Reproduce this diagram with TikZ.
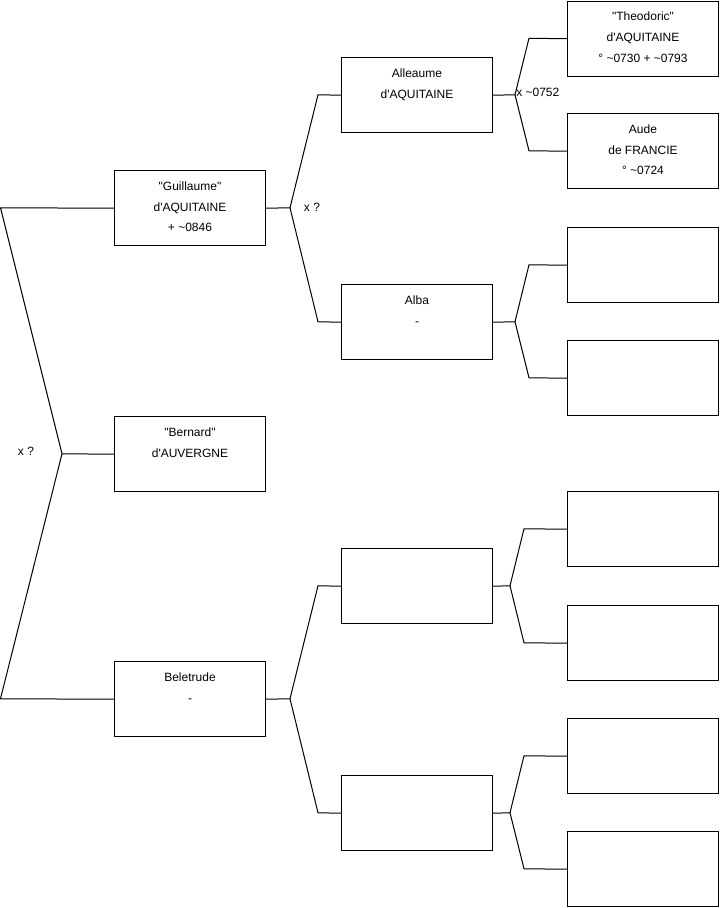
\documentclass[tikz,border=0pt]{standalone}
\usepackage{fontspec}
\newfontfamily\af{Liberation Sans}
\begin{document}
\begin{tikzpicture}[x=0.75pt,y=-0.75pt,
  every node/.style={font=\af\fontsize{9}{15.5}\selectfont},
  fbox/.style={draw, line width=0.75pt, minimum width=113.25pt, minimum height=56.6pt, inner sep=0pt, anchor=north west},
  ftext/.style={align=center, inner sep=0pt, anchor=north},
  lbl/.style={inner sep=0pt},
  link/.style={line width=0.75pt}]
\useasboundingbox (0,0) rectangle (719,908);
\newcommand\fambox[4]{%
  \node[fbox] (#1) at (#2,#3) {};
  \node[ftext] (#1t) at ([yshift=-8.6pt]#1.north) {#4};}
% generation 1
\fambox{G}{114}{170}{"Guillaume"\\d'AQUITAINE\\+ \textasciitilde0846}
\fambox{B}{114}{416}{"Bernard"\\d'AUVERGNE}
\fambox{Be}{114}{661}{Beletrude\\-}
% generation 2
\fambox{Al}{341}{57}{Alleaume\\d'AQUITAINE}
\fambox{Ab}{341}{284}{Alba\\-}
\fambox{Ea}{341}{548}{}
\fambox{Eb}{341}{775}{}
% generation 3
\fambox{T}{567}{0.5}{"Theodoric"\\d'AQUITAINE\\° \textasciitilde0730 + \textasciitilde0793}
\fambox{Au}{567}{113}{Aude\\de FRANCIE\\° \textasciitilde0724}
\fambox{P3}{567}{227}{}
\fambox{P4}{567}{340}{}
\fambox{P5}{567}{491}{}
\fambox{P6}{567}{605}{}
\fambox{P7}{567}{718}{}
\fambox{P8}{567}{831}{}
% labels
\node[lbl] (x0) at (26,451) {x ?};
\node[lbl] (x1) at (312,207) {x ?};
\node[lbl, anchor=west] (x2) at (516,92) {x \textasciitilde0752};
% coordinates
\coordinate (r1) at (0.5,207.75);
\coordinate (f0) at (62,453.75);
\coordinate (r2) at (0.5,698.75);
\coordinate (f1) at (290,207.75);
\coordinate (a1) at (318,94.75);
\coordinate (a2) at (318,321.75);
\coordinate (f2) at (515,94.75);
\coordinate (b1) at (529,38.25);
\coordinate (b2) at (529,150.75);
\coordinate (f3) at (515,321.75);
\coordinate (c1) at (529,264.75);
\coordinate (c2) at (529,377.75);
\coordinate (f4) at (290,698.75);
\coordinate (d1) at (318,585.75);
\coordinate (d2) at (318,812.75);
\coordinate (f5) at (510,585.75);
\coordinate (e1) at (524,528.75);
\coordinate (e2) at (524,642.75);
\coordinate (f6) at (510,812.75);
\coordinate (g1) at (524,755.75);
\coordinate (g2) at (524,868.75);
% connectors
\draw[link] (G.west) -- (r1) -- (f0) -- (r2) -- (Be.west);
\draw[link] (f0) -- (B.west);
\draw[link] (G.east) -- (f1) -- (a1) -- (Al.west);
\draw[link] (f1) -- (a2) -- (Ab.west);
\draw[link] (Al.east) -- (f2) -- (b1) -- (T.west);
\draw[link] (f2) -- (b2) -- (Au.west);
\draw[link] (Ab.east) -- (f3) -- (c1) -- (P3.west);
\draw[link] (f3) -- (c2) -- (P4.west);
\draw[link] (Be.east) -- (f4) -- (d1) -- (Ea.west);
\draw[link] (f4) -- (d2) -- (Eb.west);
\draw[link] (Ea.east) -- (f5) -- (e1) -- (P5.west);
\draw[link] (f5) -- (e2) -- (P6.west);
\draw[link] (Eb.east) -- (f6) -- (g1) -- (P7.west);
\draw[link] (f6) -- (g2) -- (P8.west);
\end{tikzpicture}
\end{document}
